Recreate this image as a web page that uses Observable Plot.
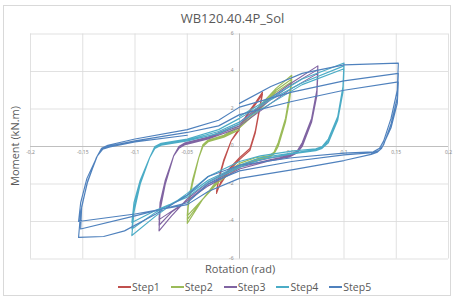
<!DOCTYPE html>
<html>
<head>
<meta charset="utf-8">
<script src="https://cdn.jsdelivr.net/npm/d3@7"></script>
<script src="https://cdn.jsdelivr.net/npm/@observablehq/plot@0.6"></script>
<style>
  html, body { margin: 0; padding: 0; background: #fff; }
  #wrap { position: relative; width: 455px; height: 300px; font-family: "Open Sans", "Liberation Sans", sans-serif; color: #595959; overflow: hidden; }
  #frame { position: absolute; left: 3px; top: 5px; width: 448px; height: 291px; border: 1px solid #d9d9d9; box-sizing: border-box; }
  #chart { position: absolute; left: 0; top: 0; }
  .t { position: absolute; white-space: nowrap; }
  #title { left: 0; width: 465px; top: 9px; text-align: center; font-size: 13px; }
  #xtitle { left: 205px; top: 263px; line-height: 11px; font-size: 11px; }
  #ytitle { left: 15px; top: 146px; font-size: 11px; line-height: 12px; transform: translate(-50%, -50%) rotate(-90deg); }
  #legend { left: 118px; top: 280px; font-size: 10.5px; display: flex; gap: 11px; }
  #legend span { display: inline-flex; align-items: center; }
  #legend i { display: inline-block; width: 13px; height: 1.5px; margin-right: 1px; }
</style>
</head>
<body>
<div id="wrap">
  <div id="frame"></div>
  <div id="chart"></div>
  <div class="t" id="title">WB120.40.4P_Sol</div>
  <div class="t" id="xtitle">Rotation (rad)</div>
  <div class="t" id="ytitle">Moment (kN.m)</div>
  <div class="t" id="legend"></div>
</div>
<script>
// ---- data (rotation [rad], moment [kN.m]) ----
const seriesNames = ["Step1", "Step2", "Step3", "Step4", "Step5"];
const seriesColors = ["#c0504d", "#9bbb59", "#8064a2", "#4bacc6", "#4f81bd"];

const step1 = [
  [0,1.0],[0.008,1.8],[0.016,2.4],[0.022,2.9],
  [0.019,2.0],[0.015,0.8],[0.01,-0.1],[0,-0.6],[-0.01,-1.2],[-0.018,-1.9],[-0.022,-2.5],
  [-0.02,-1.8],[-0.015,-0.8],[-0.008,0.3],[0,1.0],[0.008,1.7],[0.016,2.3],[0.022,2.8],
  [0.019,1.9],[0.015,0.7],[0.01,-0.2],[0,-0.7],[-0.01,-1.3],[-0.018,-2.0],[-0.022,-2.4],
  [-0.02,-1.7],[-0.015,-0.7],[-0.008,0.3],[0,0.9]
];
const step2 = [
  [0,1.1],[0.02,2.2],[0.035,3.1],[0.05,3.8],
  [0.048,2.8],[0.044,1.5],[0.037,0.2],[0.033,-0.3],[0.028,-0.5],
  [0.015,-0.6],[0,-0.9],[-0.02,-1.7],[-0.035,-2.8],[-0.05,-4.1],
  [-0.049,-3.2],[-0.045,-2.0],[-0.039,-0.6],[-0.035,0.1],[-0.03,0.35],
  [-0.015,0.6],[0,1.1],[0.02,2.1],[0.035,3.0],[0.05,3.6],
  [0.048,2.6],[0.044,1.4],[0.037,0.1],[0.033,-0.35],[0.028,-0.55],
  [0.015,-0.7],[0,-1.0],[-0.02,-1.8],[-0.035,-2.8],[-0.05,-3.9],
  [-0.049,-3.0],[-0.045,-1.9],[-0.039,-0.6],[-0.035,0.05],[-0.03,0.3],
  [-0.015,0.55],[0,1.0],[0.02,2.0],[0.035,2.9],[0.05,3.45],
  [0.048,2.5],[0.044,1.3],[0.037,0.0],[0.033,-0.4],[0.028,-0.6],
  [0.015,-0.75],[0,-1.1],[-0.02,-1.9],[-0.035,-2.8],[-0.05,-3.7],
  [-0.049,-2.9],[-0.045,-1.8],[-0.039,-0.6],[-0.035,0.0],[-0.03,0.25],
  [-0.015,0.5],[0,0.9]
];
const step3 = [
  [0,1.3],[0.03,2.6],[0.05,3.4],[0.075,4.3],
  [0.074,3.0],[0.069,1.5],[0.06,0.2],[0.055,-0.25],[0.048,-0.45],
  [0.03,-0.6],[0,-1.0],[-0.03,-1.9],[-0.05,-2.8],[-0.065,-3.7],[-0.077,-4.5],
  [-0.076,-3.4],[-0.071,-2.0],[-0.063,-0.5],[-0.058,0.0],[-0.052,0.2],
  [-0.03,0.5],[0,1.2],[0.03,2.5],[0.05,3.3],[0.075,4.1],
  [0.074,2.9],[0.069,1.4],[0.06,0.1],[0.055,-0.3],[0.048,-0.5],
  [0.03,-0.7],[0,-1.1],[-0.03,-2.0],[-0.05,-2.9],[-0.065,-3.5],[-0.077,-4.2],
  [-0.076,-3.2],[-0.071,-1.9],[-0.063,-0.5],[-0.058,-0.05],[-0.052,0.15],
  [-0.03,0.45],[0,1.1],[0.03,2.3],[0.05,3.1],[0.075,3.9],
  [0.074,2.7],[0.069,1.3],[0.06,0.0],[0.055,-0.35],[0.048,-0.55],
  [0.03,-0.75],[0,-1.2],[-0.03,-2.1],[-0.05,-2.9],[-0.077,-3.9],
  [-0.076,-3.0],[-0.071,-1.8],[-0.063,-0.5],[-0.058,-0.1],[-0.052,0.1],
  [-0.03,0.4],[0,1.0]
];
const step4 = [
  [0,1.6],[0.03,2.6],[0.06,3.6],[0.1,4.45],
  [0.099,3.2],[0.094,1.6],[0.085,0.4],[0.079,0.0],[0.073,-0.12],
  [0.05,-0.25],[0.02,-0.5],[0,-0.8],[-0.03,-1.6],[-0.05,-2.5],[-0.08,-3.7],[-0.103,-4.75],
  [-0.101,-3.5],[-0.095,-2.0],[-0.086,-0.6],[-0.081,0.0],[-0.075,0.17],
  [-0.05,0.4],[-0.02,0.9],[0,1.5],[0.03,2.5],[0.06,3.4],[0.1,4.3],
  [0.099,3.0],[0.094,1.5],[0.085,0.3],[0.079,-0.05],[0.073,-0.17],
  [0.05,-0.35],[0.02,-0.6],[0,-1.0],[-0.03,-1.8],[-0.05,-2.6],[-0.08,-3.5],[-0.103,-4.4],
  [-0.101,-3.3],[-0.095,-1.9],[-0.086,-0.6],[-0.081,-0.05],[-0.075,0.12],
  [-0.05,0.35],[-0.02,0.8],[0,1.3],[0.03,2.3],[0.06,3.3],[0.1,4.15],
  [0.099,2.9],[0.094,1.4],[0.085,0.2],[0.079,-0.1],[0.073,-0.22],
  [0.05,-0.4],[0.02,-0.7],[0,-1.1],[-0.03,-1.9],[-0.05,-2.7],[-0.08,-3.4],[-0.103,-4.05],
  [-0.101,-3.0],[-0.095,-1.8],[-0.086,-0.6],[-0.081,-0.1],[-0.075,0.07],
  [-0.05,0.3],[-0.02,0.7],[0,1.2]
];
const step5 = [
  [0,2.3],[0.03,3.2],[0.06,3.9],[0.1,4.35],[0.152,4.45],
  [0.151,3.0],[0.145,1.5],[0.138,0.3],[0.134,-0.1],[0.128,-0.28],
  [0.1,-0.35],[0.05,-0.6],[0,-1.0],[-0.03,-1.6],[-0.05,-2.6],[-0.08,-3.6],[-0.11,-4.5],[-0.13,-4.8],[-0.154,-4.85],
  [-0.152,-3.5],[-0.146,-2.0],[-0.137,-0.6],[-0.132,-0.1],[-0.126,0.07],
  [-0.1,0.4],[-0.05,0.9],[-0.02,1.4],[0,2.1],[0.05,2.9],[0.1,3.5],[0.152,3.9],
  [0.151,2.6],[0.145,1.2],[0.138,0.1],[0.134,-0.2],[0.128,-0.33],
  [0.1,-0.45],[0.05,-0.8],[0,-1.3],[-0.03,-2.0],[-0.05,-3.0],[-0.1,-3.7],[-0.152,-4.4],
  [-0.151,-3.2],[-0.145,-1.8],[-0.136,-0.5],[-0.131,-0.12],[-0.125,0.02],
  [-0.1,0.3],[-0.05,0.75],[-0.02,1.1],[0,1.7],[0.05,2.4],[0.1,3.0],[0.152,3.45],
  [0.151,2.3],[0.145,1.0],[0.136,-0.1],[0.132,-0.3],[0.126,-0.42],
  [0.1,-0.75],[0.05,-1.25],[0,-1.7],[-0.03,-2.4],[-0.05,-3.1],[-0.1,-3.6],[-0.154,-4.0],
  [-0.152,-3.0],[-0.146,-1.7],[-0.136,-0.5],[-0.131,-0.15],[-0.124,-0.03],
  [-0.1,0.25],[-0.05,0.6]
];

const xTicks = [-0.2, -0.15, -0.1, -0.05, 0, 0.05, 0.1, 0.15, 0.2];
const xTickLabels = ["-0,2", "-0,15", "-0,1", "-0,05", "0", "0,05", "0,1", "0,15", "0,2"];
const yTicks = [-6, -4, -2, 0, 2, 4, 6];
const yTickLabels = ["-6", "-4", "-2", "0", "2", "4", "6"];

// ---- build ----
const allSteps = [step1, step2, step3, step4, step5];
const rows = [];
allSteps.forEach((pts, si) => pts.forEach(([r, m], i) => rows.push({step: seriesNames[si], i, r, m})));

const xLab = xTicks.map((v, i) => ({v, label: xTickLabels[i]})).filter(d => d.v !== 0);
const yLab = yTicks.map((v, i) => ({v, label: yTickLabels[i]}));

const chart = Plot.plot({
  width: 455,
  height: 300,
  marginLeft: 30,
  marginRight: 7,
  marginTop: 33.5,
  marginBottom: 41.5,
  x: {domain: [-0.2, 0.2], axis: null},
  y: {domain: [-6, 6], axis: null},
  color: {domain: seriesNames, range: seriesColors},
  style: {background: "transparent", overflow: "visible"},
  marks: [
    Plot.ruleX(xTicks, {stroke: "#d9d9d9", strokeWidth: 0.8}),
    Plot.ruleY(yTicks, {stroke: "#d9d9d9", strokeWidth: 0.8}),
    Plot.ruleX([0], {stroke: "#bfbfbf", strokeWidth: 1}),
    Plot.ruleY([0], {stroke: "#bfbfbf", strokeWidth: 1}),
    Plot.text(xLab, {x: "v", y: () => 0, text: "label", dy: 6, fontSize: 5, fill: "#8c8c8c"}),
    Plot.text(yLab, {x: () => 0, y: "v", text: "label", dx: -6, dy: -1, fontSize: 5, fill: "#8c8c8c", textAnchor: "end"}),
    Plot.line(rows, {x: "r", y: "m", z: "step", stroke: "step", strokeWidth: 1.15, strokeLinejoin: "round", curve: "linear"})
  ]
});
document.getElementById("chart").appendChild(chart);

const legend = document.getElementById("legend");
seriesNames.forEach((n, i) => {
  const s = document.createElement("span");
  s.innerHTML = `<i style="background:${seriesColors[i]}"></i>${n}`;
  legend.appendChild(s);
});
</script>
</body>
</html>
